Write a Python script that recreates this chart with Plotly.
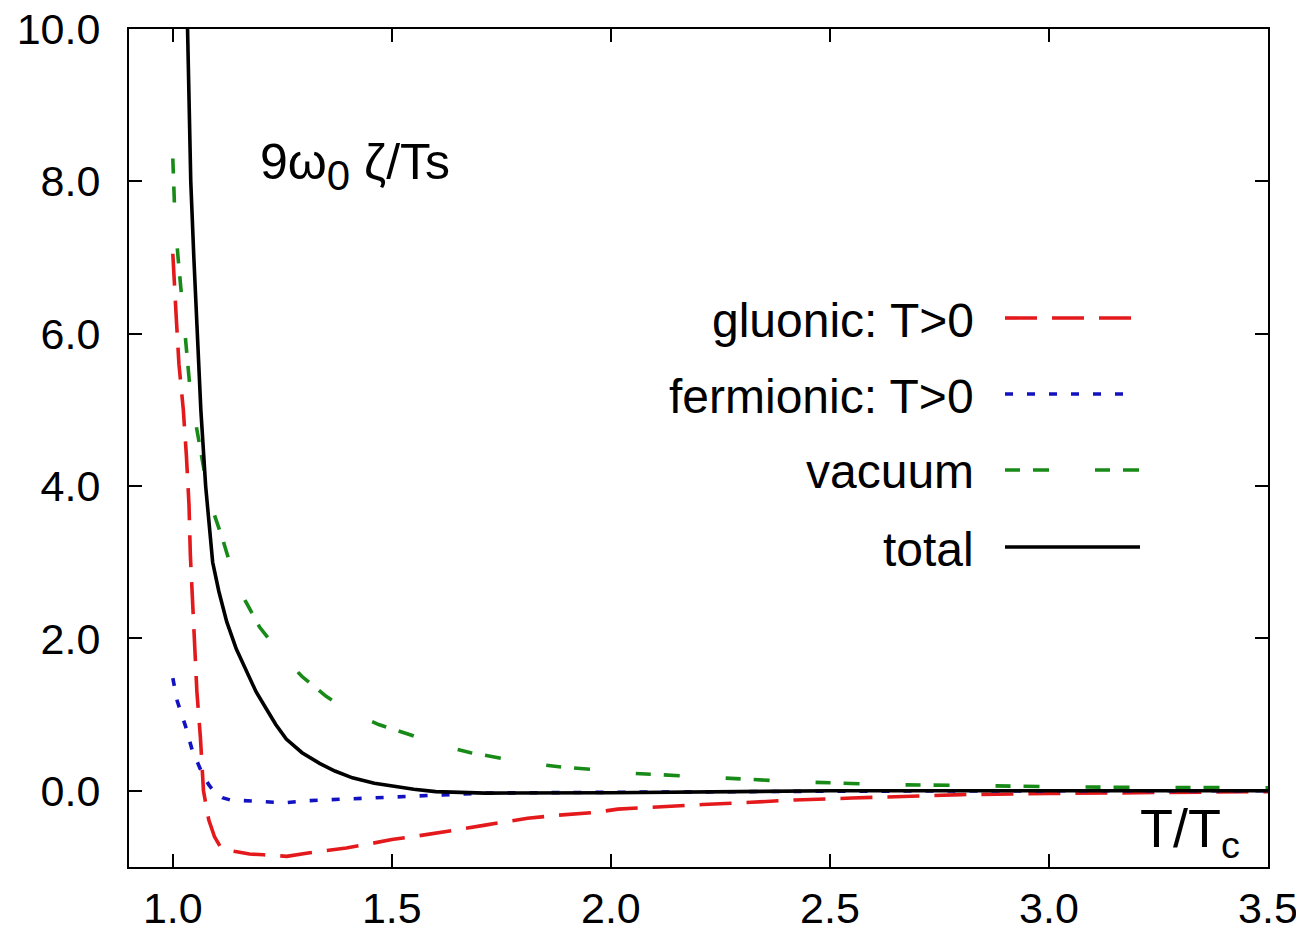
import plotly.graph_objects as go

# ---- data ----
gluonic_x = [1.0, 1.004, 1.008, 1.014, 1.024, 1.031, 1.037, 1.040, 1.045, 1.049, 1.055, 1.063,
             1.070, 1.082, 1.095, 1.108, 1.125, 1.146, 1.175, 1.207, 1.235, 1.260, 1.305, 1.35,
             1.396, 1.45, 1.50, 1.55, 1.60, 1.65, 1.713, 1.76, 1.81, 1.88, 1.963, 2.016, 2.1,
             2.21, 2.32, 2.42, 2.55, 2.67, 2.8, 3.0, 3.15, 3.3, 3.5]
gluonic_y = [7.05, 6.7, 6.2, 5.6, 5.0, 4.4, 3.75, 3.1, 2.5, 2.1, 1.3, 0.7,
             0.0, -0.38, -0.6, -0.73, -0.78, -0.80, -0.83, -0.84, -0.855, -0.86, -0.82, -0.785,
             -0.75, -0.695, -0.64, -0.6, -0.56, -0.51, -0.45, -0.405, -0.36, -0.32, -0.285, -0.24, -0.21,
             -0.18, -0.15, -0.12, -0.095, -0.07, -0.05, -0.035, -0.027, -0.02, -0.01]

fermionic_x = [1.0, 1.01, 1.029, 1.044, 1.067, 1.082, 1.097, 1.113, 1.131, 1.165, 1.199, 1.23,
               1.26, 1.305, 1.36, 1.41, 1.48, 1.56, 1.63, 1.713, 1.82, 1.94, 2.2, 2.5, 3.0, 3.5]
fermionic_y = [1.48, 1.18, 0.85, 0.54, 0.23, 0.08, -0.03, -0.09, -0.12, -0.135, -0.14, -0.15,
               -0.155, -0.13, -0.115, -0.105, -0.085, -0.066, -0.045, -0.03, -0.025, -0.02, -0.012,
               -0.005, 0.0, 0.0]

vacuum_x = [1.0, 1.005, 1.012, 1.02, 1.031, 1.039, 1.05, 1.062, 1.077, 1.095, 1.114, 1.137,
            1.165, 1.198, 1.244, 1.295, 1.35, 1.41, 1.47, 1.54, 1.609, 1.68, 1.746, 1.814,
            1.89, 1.958, 2.015, 2.11, 2.21, 2.32, 2.42, 2.53, 2.63, 2.82, 3.05, 3.25, 3.5]
vacuum_y = [8.3, 7.5, 7.0, 6.5, 5.7, 5.3, 4.9, 4.5, 4.03, 3.62, 3.3, 2.86,
            2.5, 2.15, 1.81, 1.5, 1.24, 1.02, 0.87, 0.74, 0.6, 0.5, 0.43, 0.36,
            0.31, 0.28, 0.24, 0.21, 0.18, 0.15, 0.12, 0.1, 0.08, 0.07, 0.05, 0.045, 0.04]

total_x = [1.030, 1.034, 1.037, 1.041, 1.048, 1.056, 1.064, 1.075, 1.091, 1.105, 1.123, 1.145,
           1.169, 1.19, 1.214, 1.235, 1.259, 1.295, 1.335, 1.37, 1.41, 1.46, 1.509, 1.55, 1.60,
           1.713, 2.0, 2.27, 2.5, 3.0, 3.5]
total_y = [11.0, 10.0, 9.0, 8.0, 7.0, 6.0, 5.0, 4.0, 3.0, 2.62, 2.22, 1.86,
           1.55, 1.3, 1.07, 0.87, 0.68, 0.5, 0.36, 0.26, 0.17, 0.1, 0.057, 0.02, -0.01,
           -0.03, -0.025, -0.01, 0.0, 0.0, 0.0]

series_names = ["gluonic: T>0", "fermionic: T>0", "vacuum", "total"]
series_colors = ["#e3191c", "#1212c0", "#178a17", "#000000"]
series_dash = ["32px,15px", "8px,14px", "15px,13px,16px,46px", "solid"]

x_ticks = [1.0, 1.5, 2.0, 2.5, 3.0, 3.5]
y_ticks = [0.0, 2.0, 4.0, 6.0, 8.0, 10.0]

FONT = "Liberation Sans, Arial, sans-serif"
LW = 3.6
TICK_SIZE = 43

fig = go.Figure()
data = [(gluonic_x, gluonic_y), (fermionic_x, fermionic_y), (vacuum_x, vacuum_y), (total_x, total_y)]
for (xs, ys), name, col, dsh in zip(data, series_names, series_colors, series_dash):
    fig.add_trace(go.Scatter(x=xs, y=ys, mode="lines", name=name,
                             line=dict(color=col, width=LW, dash=dsh),
                             showlegend=False))

# The page body adds an 8px offset; the figure is sized so that the plot
# area lands at x 129..1268, y 29..867 of the window.
OFF = 8
FIG_W, FIG_H = 1304 - OFF, 934 - OFF
L, R, T, B = 129, 1268, 29, 867
W, H = R - L, B - T
def px(xp):
    return (xp - L) / W
def py(yp):
    return (B - yp) / H

legend_rows = [318, 394, 470, 547]
sample_right = [1132, 1132, 1140, 1140]
annotations = []
shapes = []
for name, col, dsh, yrow, sr in zip(series_names, series_colors, series_dash, legend_rows, sample_right):
    annotations.append(dict(text=name, xref="paper", yref="paper", x=px(976), y=py(yrow + 2),
                            xanchor="right", yanchor="middle", showarrow=False,
                            font=dict(family=FONT, size=48, color="black")))
    shapes.append(dict(type="line", xref="paper", yref="paper",
                       x0=px(1005), x1=px(sr), y0=py(yrow), y1=py(yrow),
                       line=dict(color=col, width=LW, dash=dsh)))

annotations.append(dict(text="9ω<sub><span style='font-size:42px'>0</span></sub> ζ/Ts",
                        xref="paper", yref="paper",
                        x=px(258), y=py(166), xanchor="left", yanchor="middle", showarrow=False,
                        font=dict(family=FONT, size=50, color="black")))
annotations.append(dict(text="T/T<sub>c</sub>", xref="paper", yref="paper",
                        x=px(1242), y=py(832), xanchor="right", yanchor="middle", showarrow=False,
                        font=dict(family=FONT, size=54, color="black")))

fig.update_layout(
    width=FIG_W, height=FIG_H,
    margin=dict(l=L - OFF, r=1304 - R, t=T - OFF, b=934 - B, autoexpand=False),
    paper_bgcolor="white", plot_bgcolor="white",
    annotations=annotations, shapes=shapes,
    font=dict(family=FONT, size=TICK_SIZE, color="black"),
)
fig.update_xaxes(range=[0.9, 3.5], tickvals=x_ticks, ticktext=[f"{v:.1f}" for v in x_ticks],
                 ticks="inside", ticklen=13, tickwidth=2, tickcolor="black",
                 showline=True, linecolor="black", linewidth=2, mirror="ticks",
                 showgrid=False, zeroline=False, ticklabelstandoff=2, automargin=False,
                 ticklabeloverflow="allow",
                 tickfont=dict(family=FONT, size=TICK_SIZE, color="black"))
fig.update_yaxes(range=[-1.0, 10.0], tickvals=y_ticks, ticktext=[f"{v:.1f}" for v in y_ticks],
                 ticks="inside", ticklen=13, tickwidth=2, tickcolor="black",
                 showline=True, linecolor="black", linewidth=2, mirror="ticks",
                 showgrid=False, zeroline=False, ticklabelstandoff=18, automargin=False,
                 ticklabeloverflow="allow",
                 tickfont=dict(family=FONT, size=TICK_SIZE, color="black"))

fig.write_html("out.html")
